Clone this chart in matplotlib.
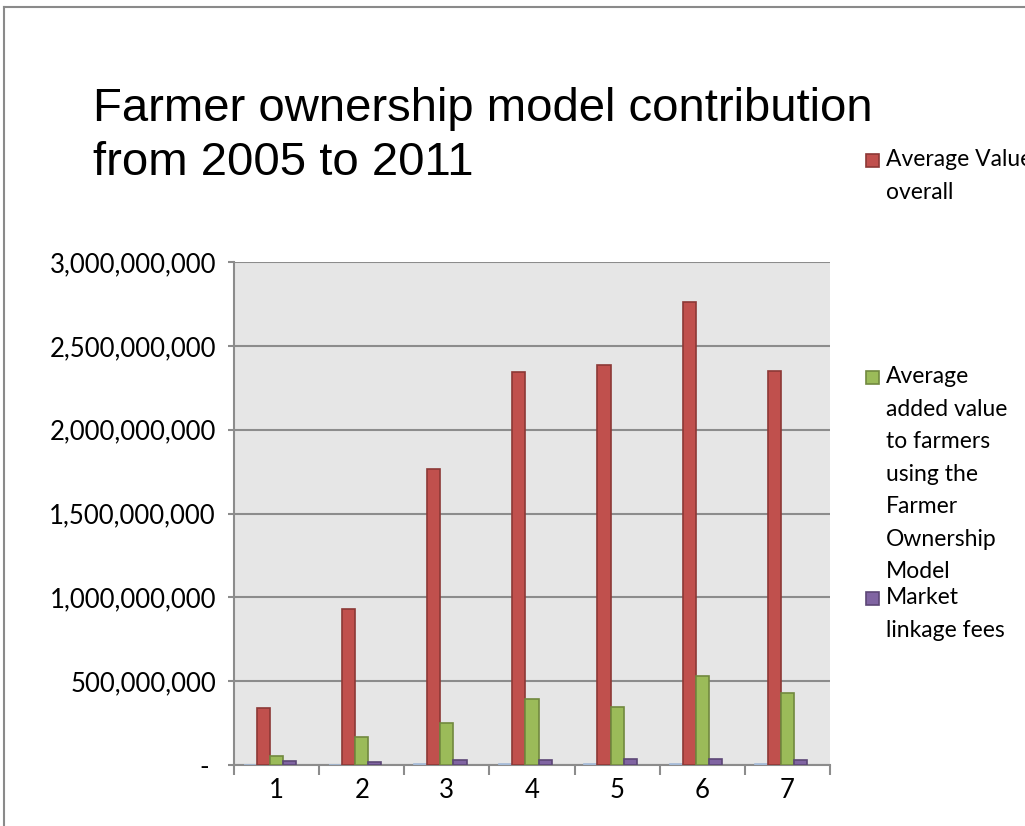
import numpy as np
import matplotlib.pyplot as plt
from matplotlib.ticker import FuncFormatter, FixedLocator
from matplotlib.patches import Rectangle
from matplotlib.lines import Line2D

# Data
categories = ['1', '2', '3', '4', '5', '6', '7']
years = [0, 0, 2007, 2008, 2009, 2010, 2011]  # hidden series, scaled x1e3 to show as a sliver
year_sliver = [y * 3000 for y in years]
avg_value_overall = [3.42e8, 9.29e8, 1.765e9, 2.344e9, 2.386e9, 2.761e9, 2.35e9]
avg_added_value = [5.4e7, 1.69e8, 2.52e8, 3.94e8, 3.44e8, 5.31e8, 4.28e8]
market_linkage_fees = [2.2e7, 2.0e7, 3.2e7, 3.2e7, 3.4e7, 3.8e7, 3.2e7]

series = [
    (year_sliver, '#C6D9F1', '#A5BBD8'),
    (avg_value_overall, '#C0504D', '#8C3836'),
    (avg_added_value, '#9BBB59', '#71893F'),
    (market_linkage_fees, '#8064A2', '#5C4776'),
]
legend_labels = ['Average Value\noverall',
                 'Average\nadded value\nto farmers\nusing the\nFarmer\nOwnership\nModel',
                 'Market\nlinkage fees']

W, H = 1025, 826
fig = plt.figure(figsize=(W / 100, H / 100), dpi=100)
fig.patch.set_facecolor('white')

# slide frame
fig.add_artist(Line2D([4 / W, 4 / W], [0, 1 - 7 / H], transform=fig.transFigure,
                      color='#8A8A8A', lw=1.5))
fig.add_artist(Line2D([4 / W, 1], [1 - 7 / H, 1 - 7 / H], transform=fig.transFigure,
                      color='#8A8A8A', lw=1.5))

fig.text(93 / W, 1 - 87 / H, 'Farmer ownership model contribution\nfrom 2005 to 2011',
         fontsize=34, family='Liberation Sans', va='top', ha='left', linespacing=1.3)

ax = fig.add_axes([234 / W, 61 / H, (830 - 234) / W, (765 - 262) / H])
ax.set_facecolor('#E6E6E6')

n_slots = 5
gap = 1.5
bw = 1 / (n_slots + gap)
x = np.arange(len(categories))
for k, (vals, fc, ec) in enumerate(series):
    left = x - 0.5 + gap / 2 * bw + k * bw
    ax.bar(left, vals, width=bw, align='edge', color=fc, edgecolor=ec, linewidth=1.2, zorder=3)

ax.set_xlim(-0.5, len(categories) - 0.5)
ax.set_ylim(0, 3e9)
ax.set_yticks(np.arange(0, 3.01e9, 5e8))
ax.yaxis.set_major_formatter(FuncFormatter(lambda v, p: '- ' if v == 0 else f'{v:,.0f}'))
ax.grid(axis='y', color='#8C8C8C', lw=1.5, zorder=1)

ax.set_xticks(x)
ax.set_xticklabels(categories)
ax.xaxis.set_minor_locator(FixedLocator(np.arange(-0.5, len(categories), 1)))
ax.tick_params(axis='x', which='major', length=0, pad=9)
ax.tick_params(axis='x', which='minor', length=7, width=1.5, color='#8C8C8C')
ax.tick_params(axis='y', length=4, width=1.5, color='#8C8C8C', pad=9)
for lab in ax.get_xticklabels() + ax.get_yticklabels():
    lab.set_fontfamily('Lato')
    lab.set_fontsize(18.5)

for s in ['top', 'right']:
    ax.spines[s].set_visible(False)
for s in ['left', 'bottom']:
    ax.spines[s].set_color('#8C8C8C')
    ax.spines[s].set_linewidth(1.5)

# legend placed like the original (entries spread down the right side)
legend_y = [154, 371, 592]
for (vals, fc, ec), lab, ly in zip(series[1:], legend_labels, legend_y):
    fig.add_artist(Rectangle((866 / W, 1 - (ly + 13) / H), 13 / W, 13 / H,
                             transform=fig.transFigure, facecolor=fc, edgecolor=ec, lw=1.2))
    fig.text(886 / W, 1 - (ly - 5) / H, lab, fontsize=16.5, family='Lato',
             va='top', ha='left', linespacing=1.68)

fig.savefig('out.png', dpi=100)
